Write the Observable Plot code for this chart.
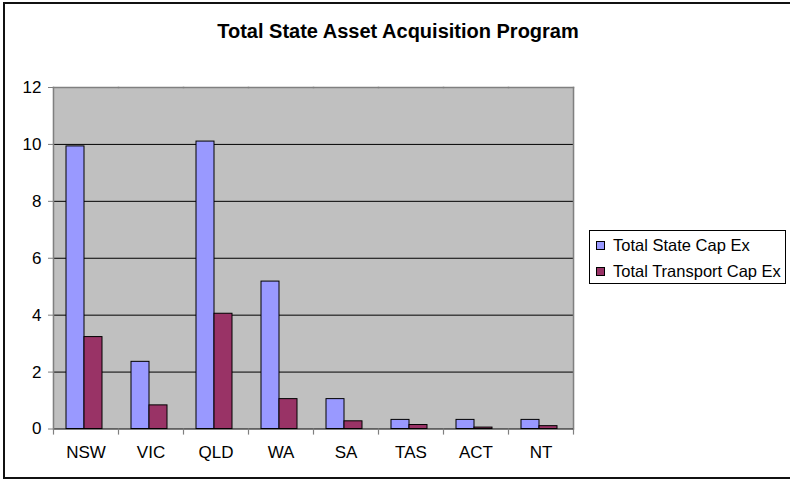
<!DOCTYPE html>
<html>
<head>
<meta charset="utf-8">
<script src="https://cdn.jsdelivr.net/npm/d3@7"></script>
<script src="https://cdn.jsdelivr.net/npm/@observablehq/plot@0.6"></script>
<style>
  html, body { margin: 0; padding: 0; background: #fff; }
  body { font-family: Arial, "Liberation Sans", sans-serif; }
  #wrap { position: relative; width: 790px; height: 482px; overflow: hidden; }
  #wrap svg { position: absolute; left: 0; top: 0; }
  #border { position: absolute; left: 3px; top: 2px; width: 820px; height: 477px; border: 2px solid #111; box-sizing: border-box; }
  #title { position: absolute; left: 0; top: 19px; width: 796px; text-align: center; font-weight: bold; font-size: 20px; line-height: 24px; color: #000; }
  #legend { position: absolute; left: 589px; top: 230px; width: 197px; height: 54px; border: 1px solid #000; box-sizing: border-box; background: #fff; padding: 1px 0 0 6px; }
  .item { height: 26px; line-height: 26px; font-size: 16.5px; color: #000; white-space: nowrap; display: flex; align-items: center; }
  .sw { width: 7px; height: 7px; border: 1px solid #000; margin-right: 8px; flex: none; }
</style>
</head>
<body>
<div id="wrap">
  <div id="border"></div>
  <div id="title">Total State Asset Acquisition Program</div>
  <div id="legend"></div>
</div>
<script>
const states = ["NSW", "VIC", "QLD", "WA", "SA", "TAS", "ACT", "NT"];
const seriesNames = ["Total State Cap Ex", "Total Transport Cap Ex"];
const stateCapEx = [9.93, 2.36, 10.1, 5.18, 1.05, 0.32, 0.32, 0.32];
const transportCapEx = [3.23, 0.83, 4.05, 1.05, 0.27, 0.14, 0.05, 0.10];
const seriesColors = ["#9999FF", "#993366"];
const yTicks = [0, 2, 4, 6, 8, 10, 12];

const data = [];
states.forEach((s, i) => {
  data.push({state: s, series: seriesNames[0], value: stateCapEx[i]});
  data.push({state: s, series: seriesNames[1], value: transportCapEx[i]});
});

const W = 790, H = 482;
const mL = 51, mR = 215, mT = 87, mB = 53.5;
const plotH = H - mT - mB;
const border = "#808080";

const chart = Plot.plot({
  width: W,
  height: H,
  marginLeft: mL,
  marginRight: mR,
  marginTop: mT,
  marginBottom: mB,
  style: {fontFamily: 'Arial, "Liberation Sans", sans-serif', fontSize: "17px", color: "#000", background: "transparent"},
  fx: {domain: states, padding: 0, axis: "bottom", tickSize: 0, tickPadding: 17, label: null},
  x: {domain: seriesNames, paddingInner: 0, paddingOuter: 0.75, align: 0.45, axis: null},
  y: {domain: [0, 12], ticks: yTicks, axis: null},
  color: {domain: seriesNames, range: seriesColors},
  marks: [
    Plot.frame({fill: "#c0c0c0", stroke: "none", insetLeft: -0.6, insetRight: -0.6}),
    Plot.ruleY(yTicks.filter(d => d > 0 && d < 12), {stroke: "#000", strokeWidth: 1}),
    Plot.frame({anchor: "top", stroke: border, strokeWidth: 1.5}),
    Plot.frame({anchor: "right", facetAnchor: "right", stroke: border, strokeWidth: 1.5}),
    Plot.barY(data, {fx: "state", x: "series", y: "value", fill: "series", stroke: "#000", strokeWidth: 1}),
    Plot.ruleY([0], {stroke: "#000", strokeWidth: 1}),
    Plot.frame({anchor: "left", facetAnchor: "left", stroke: border, strokeWidth: 1.5}),
    Plot.frame({anchor: "left", insetTop: plotH, insetBottom: -5, stroke: border, strokeWidth: 1.2}),
    Plot.frame({anchor: "right", facetAnchor: "right", insetTop: plotH, insetBottom: -5, stroke: border, strokeWidth: 1.2}),
    Plot.axisY({ticks: yTicks, tickSize: 5, tickPadding: 7, stroke: border, label: null, anchor: "left"})
  ]
});
document.getElementById("wrap").insertBefore(chart, document.getElementById("title"));

const legend = document.getElementById("legend");
seriesNames.forEach((name, i) => {
  const row = document.createElement("div");
  row.className = "item";
  const sw = document.createElement("span");
  sw.className = "sw";
  sw.style.background = seriesColors[i];
  row.appendChild(sw);
  row.appendChild(document.createTextNode(name));
  legend.appendChild(row);
});
</script>
</body>
</html>
